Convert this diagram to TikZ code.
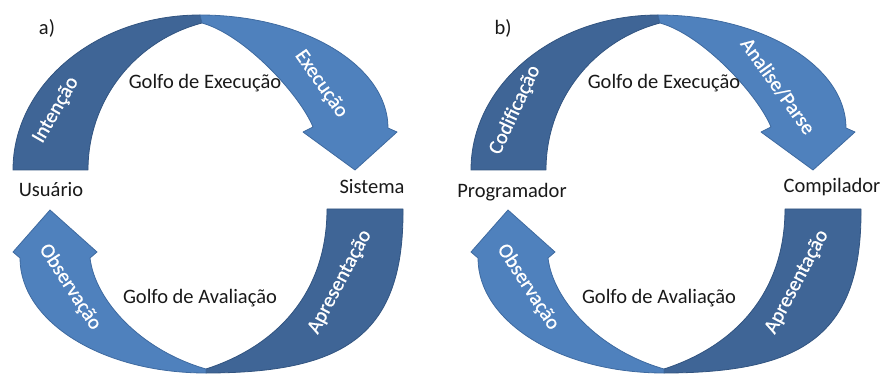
\documentclass[tikz,border=0pt]{standalone}
\usepackage{fontspec}
\setmainfont{Carlito}
\newfontfamily\armfont[FakeBold=0.8]{Carlito}
\definecolor{segdark}{RGB}{63,101,150}
\definecolor{seglight}{RGB}{79,129,189}
\definecolor{edgedark}{RGB}{50,84,128}
\definecolor{edgelight}{RGB}{62,106,160}
\definecolor{inktext}{RGB}{25,25,25}
\tikzset{
  darkseg/.style={fill=segdark, draw=edgedark, line width=0.8pt, line join=round},
  lightseg/.style={fill=seglight, draw=edgelight, line width=0.8pt, line join=round},
  armlabel/.style={text=white, font=\armfont\fontsize{20.5}{24}\selectfont, inner sep=0pt},
  gulf/.style={text=inktext, font=\fontsize{20.5}{24}\selectfont, inner sep=0pt},
  actor/.style={text=inktext, font=\fontsize{20.5}{24}\selectfont, inner sep=0pt},
  panel/.style={text=inktext, font=\fontsize{20.5}{24}\selectfont, inner sep=0pt}
}
% the four curved segments of one cycle
\newcommand\cyclearrows{%
  % upper arc, rising part
  \path[darkseg] (13,170) .. controls (13,84) and (97,15) .. (200,15)
    -- (202,23) .. controls (134,41) and (88,101) .. (88,170) -- cycle;
  % upper arc, falling part with its head
  \path[lightseg] (200,15) .. controls (304,15) and (388,66) .. (388,128)
    -- (397,132) -- (355,170) -- (303,132) -- (313,127)
    .. controls (300,95) and (245,35) .. (202,23) -- cycle;
  % lower arc, falling part
  \path[darkseg] (327,209) -- (403,209) .. controls (404,335) and (345,373) .. (206,373)
    -- (206,369) .. controls (280,345) and (327,290) .. (327,209) -- cycle;
  % lower arc, rising part with its head
  \path[lightseg] (206,373) .. controls (101,373) and (20,321) .. (20,258)
    -- (13,252) -- (50,210) -- (97,252) -- (90,258)
    .. controls (95,300) and (140,350) .. (206,369) -- cycle;
}
\begin{document}
\begin{tikzpicture}[x=1pt,y=-1pt]
\useasboundingbox (0,0) rectangle (881,374);
\cyclearrows
\begin{scope}[xshift=458pt]
\cyclearrows
\end{scope}

% panel a
\node[panel] (lbla) at (47,28) {a)};
\node[gulf] (gea) at (205,83) {Golfo de Execução};
\node[gulf] (gaa) at (200,298) {Golfo de Avaliação};
\node[actor] (usr) at (51,190) {Usuário};
\node[actor] (sys) at (372,187) {Sistema};
\node[armlabel, rotate=60] (inta) at (56,110) {Intenção};
\node[armlabel, rotate=-55] (exea) at (321,84) {Execução};
\node[armlabel, rotate=-57] (obsa) at (70,287) {Observação};
\node[armlabel, rotate=62] (apra) at (340,282) {Apresentação};

% panel b
\node[panel] (lblb) at (503,28) {b)};
\node[gulf] (geb) at (664,83) {Golfo de Execução};
\node[gulf] (gab) at (659,298) {Golfo de Avaliação};
\node[actor] (prog) at (512,192) {Programador};
\node[actor] (comp) at (832,187) {Compilador};
\node[armlabel, rotate=65] (codb) at (515,110) {Codificação};
\node[armlabel, rotate=-54.5] (anab) at (778,86) {Analise/Parse};
\node[armlabel, rotate=-57] (obsb) at (528,287) {Observação};
\node[armlabel, rotate=62] (aprb) at (797,282) {Apresentação};
\end{tikzpicture}
\end{document}
